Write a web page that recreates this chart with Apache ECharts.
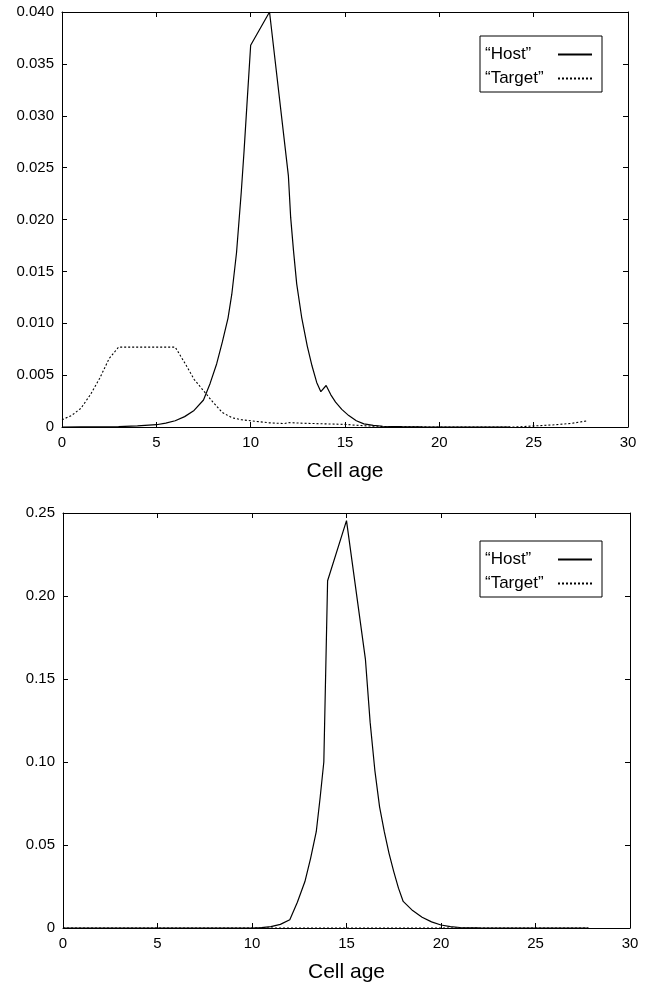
<!DOCTYPE html>
<html>
<head>
<meta charset="utf-8">
<script src="https://cdn.jsdelivr.net/npm/echarts@6/dist/echarts.min.js"></script>
<style>
html,body{margin:0;padding:0;background:#fff;}
#c{width:650px;height:986px;}
</style>
</head>
<body>
<div id="c"></div>
<script>
// ---- Data ----
var seriesNames = ['\u201CHost\u201D', '\u201CTarget\u201D'];
var xTicks = [0, 5, 10, 15, 20, 25, 30];

// Top panel
var hostTopX = [0,1,2,3,4,5,5.5,6,6.5,7,7.5,7.85,8.2,8.5,8.8,9,9.25,9.5,9.65,9.8,10,11,12,12.12,12.27,12.44,12.7,13,13.25,13.5,13.72,14,14.25,14.5,14.83,15.2,15.6,16,16.5,17,18,19,20,22,23.75];
var hostTopY = [0,0.00001,0.00002,0.00004,0.0001,0.00022,0.00038,0.0006,0.001,0.0016,0.0026,0.0042,0.0061,0.0082,0.0105,0.0128,0.0168,0.0226,0.0266,0.031,0.0368,0.0400,0.0242,0.0202,0.0170,0.0138,0.0106,0.0078,0.0059,0.0043,0.0034,0.0040,0.0031,0.0024,0.0017,0.0011,0.0006,0.0003,0.00015,0.00007,0.00003,0.00001,0,0,0];
var targetTopX = [0,0.5,1,1.5,2,2.5,3,6,6.5,7,7.5,8,8.5,9,9.5,10,11,11.8,12,13,14,15,16,17,18,20,24,25,26,27,27.8];
var targetTopY = [0.0007,0.0011,0.0018,0.0031,0.0047,0.0066,0.0077,0.0077,0.0062,0.0046,0.0035,0.0024,0.0014,0.0009,0.0007,0.0006,0.0004,0.00033,0.00042,0.00035,0.0003,0.00025,0.00012,0.00005,0.00002,0,0,0.0001,0.0002,0.00035,0.00058];
var yTicksTop = [0,0.005,0.010,0.015,0.020,0.025,0.030,0.035,0.040];

// Bottom panel
var hostBotX = [0,5,10,10.5,11,11.5,12,12.4,12.8,13.1,13.4,13.6,13.8,14,15,16,16.25,16.5,16.75,17,17.25,17.5,17.75,18,18.5,19,19.5,20,20.5,21,22,24,27.8];
var hostBotY = [0,0,0,0.0002,0.0008,0.0022,0.005,0.0155,0.028,0.042,0.058,0.078,0.100,0.2092,0.2454,0.162,0.124,0.095,0.073,0.058,0.045,0.034,0.024,0.016,0.0105,0.0065,0.0037,0.0018,0.0008,0.0003,0.0001,0,0];
var targetBotX = [0,5,10,15,20,25,27.8];
var targetBotY = [0,0,0,0,0,0,0];
var yTicksBot = [0,0.05,0.10,0.15,0.20,0.25];

function pairs(xs, ys){ return xs.map(function(x,i){ return [x, ys[i]]; }); }

var FONT = '"Liberation Sans", Arial, Helvetica, sans-serif';

function xAx(grid, pos, lbl){
  var a = {
    gridIndex: grid, type: 'value', position: pos,
    min: xTicks[0], max: xTicks[xTicks.length-1], interval: 5,
    axisLine: {show: true, onZero: false, lineStyle: {color: '#000', width: 1}},
    axisTick: {show: true, inside: true, length: 5, lineStyle: {color: '#000', width: 1}},
    axisLabel: {show: lbl, fontSize: 15, color: '#000', fontFamily: FONT, margin: 8},
    splitLine: {show: false}
  };
  if (lbl) {
    a.name = 'Cell age'; a.nameLocation = 'middle'; a.nameGap = 34;
    a.nameTextStyle = {fontSize: 21, color: '#000', fontFamily: FONT};
  }
  return a;
}
function yAx(grid, pos, lbl, ticks, dec){
  return {
    gridIndex: grid, type: 'value', position: pos,
    min: ticks[0], max: ticks[ticks.length-1], interval: ticks[1]-ticks[0],
    axisLine: {show: true, onZero: false, lineStyle: {color: '#000', width: 1}},
    axisTick: {show: true, inside: true, length: 5, lineStyle: {color: '#000', width: 1}},
    axisLabel: {show: lbl, fontSize: 15, color: '#000', fontFamily: FONT, margin: 8,
      formatter: function(v){ return Math.abs(v) < 1e-12 ? '0' : v.toFixed(dec); }},
    splitLine: {show: false}
  };
}
function legendAt(top){
  return {
    data: seriesNames, orient: 'vertical', left: 480, top: top,
    align: 'right', itemWidth: 34, itemHeight: 12, itemGap: 7,
    borderColor: '#000', borderWidth: 1, borderRadius: 0,
    padding: [10, 9, 5, 5], backgroundColor: '#fff',
    itemStyle: {color: 'rgba(0,0,0,0)', borderWidth: 0, opacity: 0},
    formatter: function(n){ return '{t|' + n + '}'; },
    textStyle: {fontSize: 17, color: '#000', fontFamily: FONT,
      rich: {t: {width: 68, height: 17, align: 'left', fontSize: 17, color: '#000', fontFamily: FONT}}},
    selectedMode: false
  };
}
function line(name, data, xi, yi, dotted){
  return {
    name: name, type: 'line', xAxisIndex: xi, yAxisIndex: yi,
    data: data, symbol: 'none', showSymbol: false, smooth: false,
    lineStyle: {color: '#000', width: dotted ? 1.1 : 1.2, type: dotted ? [2, 2] : 'solid'},
    itemStyle: {color: '#000'}, clip: true
  };
}

var chart = echarts.init(document.getElementById('c'), null, {renderer: 'canvas'});
chart.setOption({
  animation: false,
  backgroundColor: '#fff',
  grid: [
    {left: 62, top: 12, width: 566, height: 415, show: false},
    {left: 63, top: 513, width: 567, height: 415, show: false}
  ],
  legend: [legendAt(36), legendAt(541)],
  xAxis: [xAx(0,'bottom',true), xAx(0,'top',false), xAx(1,'bottom',true), xAx(1,'top',false)],
  yAxis: [yAx(0,'left',true,yTicksTop,3), yAx(0,'right',false,yTicksTop,3),
          yAx(1,'left',true,yTicksBot,2), yAx(1,'right',false,yTicksBot,2)],
  series: [
    line(seriesNames[0], pairs(hostTopX, hostTopY), 0, 0, false),
    line(seriesNames[1], pairs(targetTopX, targetTopY), 0, 0, true),
    line(seriesNames[0], pairs(hostBotX, hostBotY), 2, 2, false),
    line(seriesNames[1], pairs(targetBotX, targetBotY), 2, 2, true)
  ]
});
</script>
</body>
</html>
